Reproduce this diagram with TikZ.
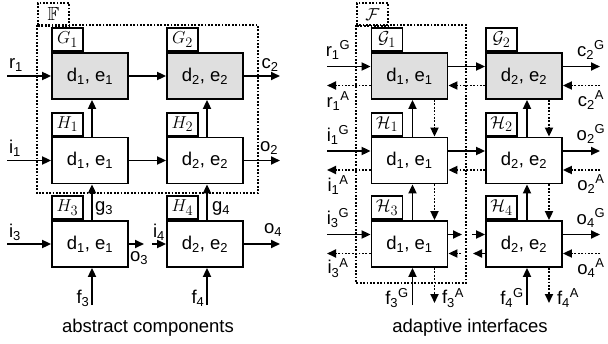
\documentclass[tikz,border=0pt]{standalone}
\usepackage{amsfonts,amssymb,amsmath}
\usepackage{fontspec}
\setmainfont{Liberation Sans}
\usetikzlibrary{arrows.meta}

\tikzset{
	blk/.style={rectangle, draw, line width=1.8pt, minimum width=76pt, minimum height=46pt, inner sep=0pt, font=\fontsize{18.5}{21}\selectfont},
	gblk/.style={blk, fill=gray!25},
	tabbox/.style={rectangle, draw, line width=1.8pt, fill=white, minimum width=31pt, minimum height=23pt, inner sep=0pt, anchor=south west, font=\fontsize{19}{21}\selectfont},
	grp/.style={draw, line width=1.8pt, dash pattern=on 1.8pt off 1.6pt},
	sig/.style={-{Triangle[length=9pt,width=8pt]}, line width=1.8pt},
	adp/.style={sig, dash pattern=on 1.8pt off 1.6pt},
	lbl/.style={font=\fontsize{18.5}{21}\selectfont, inner sep=0pt},
}

\begin{document}
\begin{tikzpicture}[x=1pt, y=-1pt]
		\useasboundingbox (0,0) rectangle (608,343);

		% ---- abstract components ----
		% Group F
		\draw[grp] (37,25) rectangle (258,193);
		\node (fl) [grp, rectangle, minimum width=31pt, minimum height=23pt, inner sep=0pt, anchor=north west, font=\fontsize{19}{21}\selectfont] at (37,2) {$\mathbb{F}$};

		% Components
		\node (g1) [gblk] at (90,76) {d\textsubscript{1}, e\textsubscript{1}};
		\node (g2) [gblk] at (205,76) {d\textsubscript{2}, e\textsubscript{2}};
		\node (h1) [blk] at (90,160.5) {d\textsubscript{1}, e\textsubscript{1}};
		\node (h2) [blk] at (205,160.5) {d\textsubscript{2}, e\textsubscript{2}};
		\node (h3) [blk] at (90,244) {d\textsubscript{1}, e\textsubscript{1}};
		\node (h4) [blk] at (205,244) {d\textsubscript{2}, e\textsubscript{2}};

		% Tabs
		\node (tg1) [tabbox] at (g1.north west) {$G_1$};
		\node (tg2) [tabbox] at (g2.north west) {$G_2$};
		\node (th1) [tabbox] at (h1.north west) {$H_1$};
		\node (th2) [tabbox] at (h2.north west) {$H_2$};
		\node (th3) [tabbox] at (h3.north west) {$H_3$};
		\node (th4) [tabbox] at (h4.north west) {$H_4$};

		% Ports
		\coordinate (r1) at (7,76);
		\coordinate (c2) at (280,76);
		\coordinate (i1) at (7,160.5);
		\coordinate (o2) at (280,160.5);
		\coordinate (i3) at (7,244);
		\coordinate (o3) at (144,244);
		\coordinate (i4) at (152,244);
		\coordinate (o4) at (280,244);
		\coordinate (f3) at (92,305);
		\coordinate (f4) at (207,305);

		% Arrows
		\draw[sig] (r1) -- (g1);
		\draw[sig] (g1) -- (g2);
		\draw[sig] (g2) -- (c2);
		\draw[sig] (i1) -- (h1);
		\draw[sig] (h1) -- (h2);
		\draw[sig] (h2) -- (o2);
		\draw[sig] (i3) -- (h3);
		\draw[sig] (h3) -- (o3);
		\draw[sig] (i4) -- (h4);
		\draw[sig] (h4) -- (o4);
		\draw[sig] ([xshift=2pt]h1.north) -- ([xshift=2pt]g1.south);
		\draw[sig] ([xshift=2pt]h2.north) -- ([xshift=2pt]g2.south);
		\draw[sig] ([xshift=2pt]h3.north) -- ([xshift=2pt]h1.south);
		\draw[sig] ([xshift=2pt]h4.north) -- ([xshift=2pt]h2.south);
		\draw[sig] (f3) -- (f3 |- h3.south);
		\draw[sig] (f4) -- (f4 |- h4.south);

		% Labels
		\node (lr1) [lbl] at (16,65) {r\textsubscript{1}};
		\node (lc2) [lbl] at (270,65) {c\textsubscript{2}};
		\node (li1) [lbl] at (15,148) {i\textsubscript{1}};
		\node (lo2) [lbl] at (269,148) {o\textsubscript{2}};
		\node (lg3) [lbl] at (104,208) {g\textsubscript{3}};
		\node (lg4) [lbl] at (221,208) {g\textsubscript{4}};
		\node (li3) [lbl] at (15,232) {i\textsubscript{3}};
		\node (lo3) [lbl] at (139,258) {o\textsubscript{3}};
		\node (li4) [lbl] at (159,232) {i\textsubscript{4}};
		\node (lo4) [lbl] at (273,230) {o\textsubscript{4}};
		\node (lf3) [lbl] at (83,298) {f\textsubscript{3}};
		\node (lf4) [lbl] at (198,298) {f\textsubscript{4}};
		\node (capl) [lbl] at (148,328) {abstract components};

		% ---- adaptive interfaces ----
		% Group F
		\draw[grp] (356,25) rectangle (466,283);
		\node (fr) [grp, rectangle, minimum width=31pt, minimum height=23pt, inner sep=0pt, anchor=north west, font=\fontsize{19}{21}\selectfont] at (356,2) {$\mathcal{F}$};

		% Components
		\node (ga1) [gblk] at (409.5,76) {d\textsubscript{1}, e\textsubscript{1}};
		\node (ga2) [gblk] at (524,76) {d\textsubscript{2}, e\textsubscript{2}};
		\node (ha1) [blk] at (409.5,160.5) {d\textsubscript{1}, e\textsubscript{1}};
		\node (ha2) [blk] at (524,160.5) {d\textsubscript{2}, e\textsubscript{2}};
		\node (ha3) [blk] at (409.5,244) {d\textsubscript{1}, e\textsubscript{1}};
		\node (ha4) [blk] at (524,244) {d\textsubscript{2}, e\textsubscript{2}};

		% Tabs
		\node (tga1) [tabbox] at (ga1.north west) {$\mathcal{G}_1$};
		\node (tga2) [tabbox] at (ga2.north west) {$\mathcal{G}_2$};
		\node (tha1) [tabbox] at (ha1.north west) {$\mathcal{H}_1$};
		\node (tha2) [tabbox] at (ha2.north west) {$\mathcal{H}_2$};
		\node (tha3) [tabbox] at (ha3.north west) {$\mathcal{H}_3$};
		\node (tha4) [tabbox] at (ha4.north west) {$\mathcal{H}_4$};

		% Ports
		\coordinate (r1g) at (327,66.5);
		\coordinate (r1a) at (327,85.5);
		\coordinate (c2g) at (600,66.5);
		\coordinate (c2a) at (600,85.5);
		\coordinate (i1g) at (327,151);
		\coordinate (i1a) at (327,170);
		\coordinate (o2g) at (600,151);
		\coordinate (o2a) at (600,170);
		\coordinate (i3g) at (327,234.5);
		\coordinate (i3a) at (327,253.5);
		\coordinate (o3g) at (462,234.5);
		\coordinate (o3a) at (461,253.5);
		\coordinate (i4g) at (472,234.5);
		\coordinate (i4a) at (473,253.5);
		\coordinate (o4g) at (600,234.5);
		\coordinate (o4a) at (600,253.5);
		\coordinate (f3g) at (412.5,305);
		\coordinate (f3a) at (434.5,303);
		\coordinate (f4g) at (527,305);
		\coordinate (f4a) at (549,303);

		% Solid arrows
		\draw[sig] (r1g) -- (r1g -| ga1.west);
		\draw[sig] ([yshift=9.5pt]ga1.east) -- ([yshift=9.5pt]ga2.west);
		\draw[sig] (c2g -| ga2.east) -- (c2g);
		\draw[sig] (i1g) -- (i1g -| ha1.west);
		\draw[sig] ([yshift=9.5pt]ha1.east) -- ([yshift=9.5pt]ha2.west);
		\draw[sig] (o2g -| ha2.east) -- (o2g);
		\draw[sig] (i3g) -- (i3g -| ha3.west);
		\draw[sig] (o3g -| ha3.east) -- (o3g);
		\draw[sig] (i4g) -- (i4g -| ha4.west);
		\draw[sig] (o4g -| ha4.east) -- (o4g);
		\draw[sig] ([xshift=3pt]ha1.north) -- ([xshift=3pt]ga1.south);
		\draw[sig] ([xshift=3pt]ha2.north) -- ([xshift=3pt]ga2.south);
		\draw[sig] ([xshift=3pt]ha3.north) -- ([xshift=3pt]ha1.south);
		\draw[sig] ([xshift=3pt]ha4.north) -- ([xshift=3pt]ha2.south);
		\draw[sig] (f3g) -- (f3g |- ha3.south);
		\draw[sig] (f4g) -- (f4g |- ha4.south);

		% Dotted arrows
		\draw[adp] (r1a -| ga1.west) -- (r1a);
		\draw[adp] ([yshift=-9.5pt]ga2.west) -- ([yshift=-9.5pt]ga1.east);
		\draw[adp] (c2a) -- (c2a -| ga2.east);
		\draw[adp] (i1a -| ha1.west) -- (i1a);
		\draw[adp] ([yshift=-9.5pt]ha2.west) -- ([yshift=-9.5pt]ha1.east);
		\draw[adp] (o2a) -- (o2a -| ha2.east);
		\draw[adp] (i3a -| ha3.west) -- (i3a);
		\draw[adp] (o3a) -- (o3a -| ha3.east);
		\draw[adp] (i4a -| ha4.west) -- (i4a);
		\draw[adp] (o4a) -- (o4a -| ha4.east);
		\draw[adp] ([xshift=25pt]ga1.south) -- ([xshift=25pt]ha1.north);
		\draw[adp] ([xshift=25pt]ga2.south) -- ([xshift=25pt]ha2.north);
		\draw[adp] ([xshift=25pt]ha1.south) -- ([xshift=25pt]ha3.north);
		\draw[adp] ([xshift=25pt]ha2.south) -- ([xshift=25pt]ha4.north);
		\draw[adp] (f3a |- ha3.south) -- (f3a);
		\draw[adp] (f4a |- ha4.south) -- (f4a);

		% Labels
		\node (lr1g) [lbl] at (338,50) {r\textsubscript{1}\textsuperscript{G}};
		\node (lr1a) [lbl] at (338,101) {r\textsubscript{1}\textsuperscript{A}};
		\node (lc2g) [lbl] at (591,50) {c\textsubscript{2}\textsuperscript{G}};
		\node (lc2a) [lbl] at (591,100) {c\textsubscript{2}\textsuperscript{A}};
		\node (li1g) [lbl] at (338,135) {i\textsubscript{1}\textsuperscript{G}};
		\node (li1a) [lbl] at (338,185) {i\textsubscript{1}\textsuperscript{A}};
		\node (lo2g) [lbl] at (591,134) {o\textsubscript{2}\textsuperscript{G}};
		\node (lo2a) [lbl] at (591,184) {o\textsubscript{2}\textsuperscript{A}};
		\node (li3g) [lbl] at (338,218) {i\textsubscript{3}\textsuperscript{G}};
		\node (li3a) [lbl] at (338,268) {i\textsubscript{3}\textsuperscript{A}};
		\node (lo4g) [lbl] at (591,218) {o\textsubscript{4}\textsuperscript{G}};
		\node (lo4a) [lbl] at (591,268) {o\textsubscript{4}\textsuperscript{A}};
		\node (lf3g) [lbl] at (397,298) {f\textsubscript{3}\textsuperscript{G}};
		\node (lf3a) [lbl] at (453,298) {f\textsubscript{3}\textsuperscript{A}};
		\node (lf4g) [lbl] at (512,298) {f\textsubscript{4}\textsuperscript{G}};
		\node (lf4a) [lbl] at (568,298) {f\textsubscript{4}\textsuperscript{A}};
		\node (capr) [lbl] at (470,328) {adaptive interfaces};
	\end{tikzpicture}
\end{document}
